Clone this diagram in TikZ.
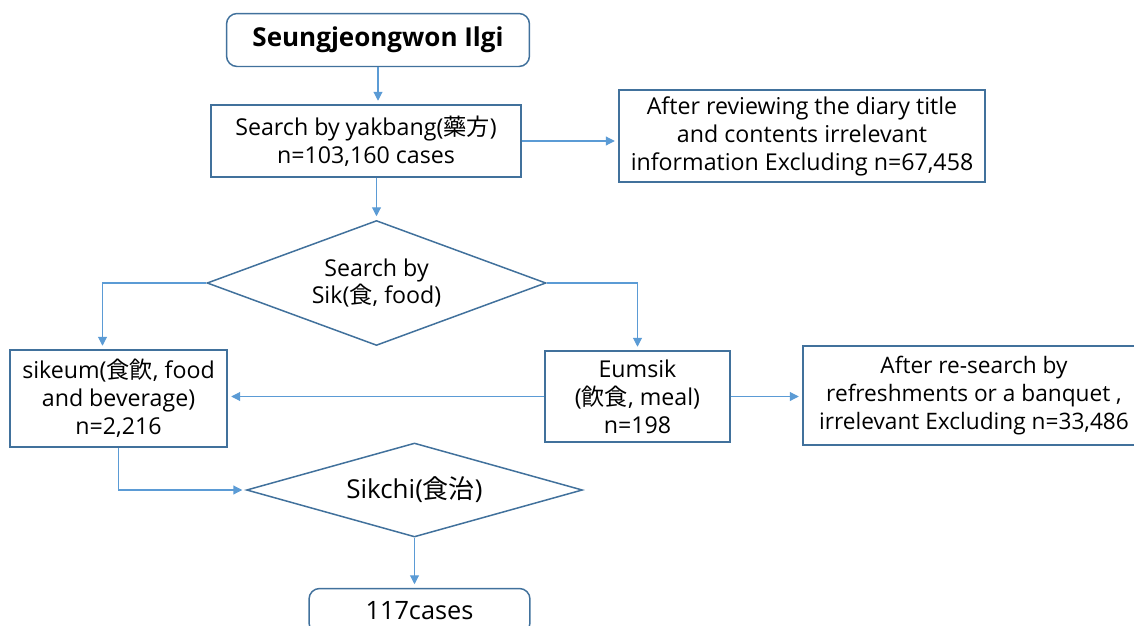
\documentclass[tikz,border=0pt]{standalone}
\usepackage{fontspec}
\setmainfont{Open Sans}
\newfontfamily\cjk{Noto Sans CJK KR}
\usetikzlibrary{shapes.geometric,arrows.meta,positioning}
\definecolor{boxline}{HTML}{41719C}
\definecolor{arrline}{HTML}{5B9BD5}

\begin{document}
\begin{tikzpicture}[x=0.02cm,y=-0.02cm,
    box/.style={rectangle, draw=boxline, fill=white, line width=0.85pt, align=center, inner sep=0pt, font=\fontsize{13.2}{15.9}\selectfont},
    rbox/.style={box, rounded corners=6pt},
    decision/.style={diamond, draw=boxline, fill=white, line width=0.85pt, align=center, inner sep=0pt, font=\fontsize{13.2}{15.9}\selectfont},
    arr/.style={draw=arrline, line width=0.6pt, -{Triangle[length=5pt,width=5pt]}, shorten >=2pt}]
    \useasboundingbox (0,0) rectangle (1134,626);
    \clip (0,0) rectangle (1134,626);
    \node[rbox, minimum width=6.06cm, minimum height=1.06cm, font=\fontsize{14.8}{18}\selectfont\bfseries] (title) at (378,40) {Seungjeongwon Ilgi};
    \node[box, minimum width=6.2cm, minimum height=1.44cm] (yak) at (366,141) {Search by yakbang({\cjk 藥方})\\n=103,160 cases};
    \node[box, minimum width=7.32cm, minimum height=1.84cm] (rev) at (802,136) {After reviewing the diary title\\and contents irrelevant\\information Excluding n=67,458};
    \node[decision, aspect=2.7, minimum width=6.78cm, minimum height=2.5cm] (sik) at (376.5,283) {Search by\\Sik({\cjk 食}, food)};
    \node[box, minimum width=4.34cm, minimum height=1.94cm] (sikeum) at (118.5,398.5) {sikeum({\cjk 食飮}, food\\and beverage)\\n=2,216};
    \node[box, minimum width=3.7cm, minimum height=1.82cm] (eum) at (637.5,396.5) {Eumsik\\({\cjk 飮食}, meal)\\n=198};
    \node[box, minimum width=6.84cm, minimum height=1.98cm, font=\fontsize{12.9}{15.9}\selectfont] (res) at (974,395.5) {After re-search by\\refreshments or a banquet ,\\irrelevant Excluding n=33,486};
    \node[decision, aspect=3.57, minimum width=6.72cm, minimum height=1.88cm, font=\fontsize{14.8}{18}\selectfont] (sikchi) at (414.5,490) {Sikchi({\cjk 食治})};
    \node[rbox, minimum width=4.42cm, minimum height=0.9cm, font=\fontsize{14.4}{18}\selectfont] (cases) at (419.5,611) {117cases};

    \draw[arr] (title.south) -- (title.south |- yak.north);
    \draw[arr] (yak.east) -- (yak.east -| rev.west);
    \draw[arr] (sik.north |- yak.south) -- (sik.north);
    \draw[arr] (sik.west) -| ([shift={(-16,0)}]sikeum.north);
    \draw[arr] (sik.east) -| (eum.north);
    \draw[arr] (eum.west) -- (eum.west -| sikeum.east);
    \draw[arr] (eum.east) -- (eum.east -| res.west);
    \draw[arr] (sikeum.south) |- (sikchi.west);
    \draw[arr] (sikchi.south) -- (sikchi.south |- cases.north);
\end{tikzpicture}
\end{document}
